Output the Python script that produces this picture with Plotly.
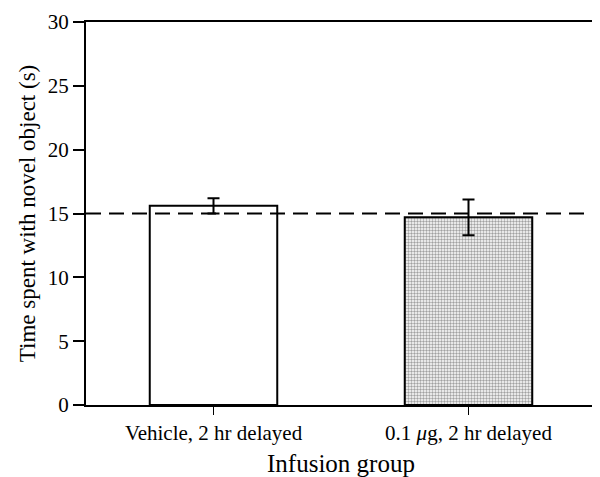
import plotly.graph_objects as go

categories = ["Vehicle, 2 hr delayed", "0.1 <i>μ</i>g, 2 hr delayed"]
means = [15.6, 14.7]
errors = [0.6, 1.4]
chance_level = 15
y_ticks = [0, 5, 10, 15, 20, 25, 30]

FONT = "Liberation Serif, Times New Roman, serif"

fig = go.Figure()
fig.add_trace(go.Bar(
    x=categories,
    y=means,
    width=0.5,
    marker=dict(
        color=["white", "white"],
        line=dict(color="black", width=2),
        pattern=dict(
            shape=["", "."],
            fgcolor="#222222",
            bgcolor="white",
            size=3,
            solidity=0.5,
            fillmode="overlay",
        ),
    ),
    error_y=dict(type="data", array=errors, visible=True,
                 color="black", thickness=2, width=6),
    showlegend=False,
))

fig.add_shape(type="line", xref="paper", yref="y",
              x0=0, x1=1, y0=chance_level, y1=chance_level,
              line=dict(color="black", width=2, dash="15px,8px"))

# the page body has an 8px default margin; compensate so the plot lands where the reference has it
fig.update_layout(
    width=592, height=469,
    margin=dict(l=78, r=2, t=13, b=70),
    paper_bgcolor="white", plot_bgcolor="white",
    font=dict(family=FONT, color="black"),
    xaxis=dict(
        range=[-0.5, 1.5],
        showline=True, linecolor="black", linewidth=2, mirror=True,
        ticks="outside", ticklen=8, tickwidth=1, tickcolor="black",
        tickfont=dict(size=21, family=FONT),
        title=dict(text="Infusion group", font=dict(size=25, family=FONT), standoff=12),
        showgrid=False, zeroline=False,
    ),
    yaxis=dict(
        range=[0, 30],
        tickvals=y_ticks,
        showline=True, linecolor="black", linewidth=2, mirror=True,
        ticks="outside", ticklen=11, tickwidth=1.5, tickcolor="black",
        tickfont=dict(size=21, family=FONT),
        title=dict(text="Time spent with novel object (s)", font=dict(size=23, family=FONT), standoff=6),
        showgrid=False, zeroline=False,
    ),
)

fig.write_html("out.html")
